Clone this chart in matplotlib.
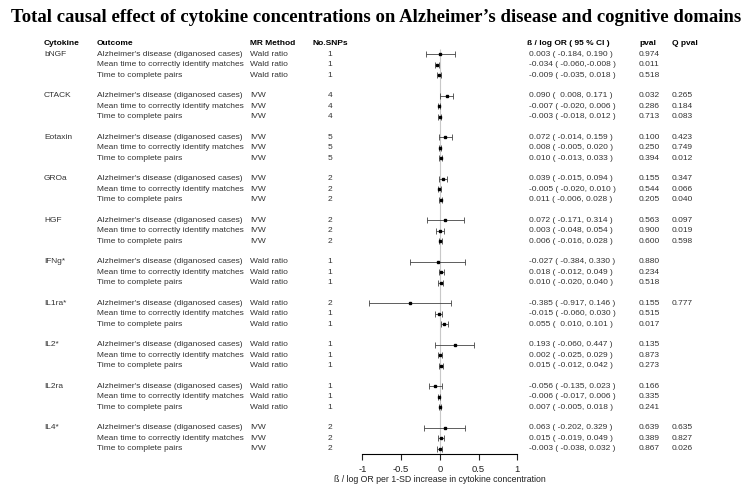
import numpy as np
import matplotlib
matplotlib.use("Agg")
import matplotlib.pyplot as plt
import matplotlib.transforms as mtransforms

cytokines = ["bNGF", "CTACK", "Eotaxin", "GROa", "HGF", "IFNg*", "IL1ra*", "IL2*", "IL2ra", "IL4*"]
outcomes = ["Alzheimer's disease (diganosed cases)",
            "Mean time to correctly identify matches",
            "Time to complete pairs"]
methods = ["Wald ratio", "IVW", "IVW", "IVW", "IVW", "Wald ratio", "Wald ratio", "Wald ratio", "Wald ratio", "IVW"]
snps = [[1, 1, 1], [4, 4, 4], [5, 5, 5], [2, 2, 2], [2, 2, 2],
        [1, 1, 1], [2, 1, 1], [1, 1, 1], [1, 1, 1], [2, 2, 2]]

beta = [[0.003, -0.034, -0.009],
        [0.090, -0.007, -0.003],
        [0.072, 0.008, 0.010],
        [0.039, -0.005, 0.011],
        [0.072, 0.003, 0.006],
        [-0.027, 0.018, 0.010],
        [-0.385, -0.015, 0.055],
        [0.193, 0.002, 0.015],
        [-0.056, -0.006, 0.007],
        [0.063, 0.015, -0.003]]
lower = [[-0.184, -0.060, -0.035],
         [0.008, -0.020, -0.018],
         [-0.014, -0.005, -0.013],
         [-0.015, -0.020, -0.006],
         [-0.171, -0.048, -0.016],
         [-0.384, -0.012, -0.020],
         [-0.917, -0.060, 0.010],
         [-0.060, -0.025, -0.012],
         [-0.135, -0.017, -0.005],
         [-0.202, -0.019, -0.038]]
upper = [[0.190, -0.008, 0.018],
         [0.171, 0.006, 0.012],
         [0.159, 0.020, 0.033],
         [0.094, 0.010, 0.028],
         [0.314, 0.054, 0.028],
         [0.330, 0.049, 0.040],
         [0.146, 0.030, 0.101],
         [0.447, 0.029, 0.042],
         [0.023, 0.006, 0.018],
         [0.329, 0.049, 0.032]]
pval = [["0.974", "0.011", "0.518"],
        ["0.032", "0.286", "0.713"],
        ["0.100", "0.250", "0.394"],
        ["0.155", "0.544", "0.205"],
        ["0.563", "0.900", "0.600"],
        ["0.880", "0.234", "0.518"],
        ["0.155", "0.515", "0.017"],
        ["0.135", "0.873", "0.273"],
        ["0.166", "0.335", "0.241"],
        ["0.639", "0.389", "0.867"]]
qpval = [["", "", ""],
         ["0.265", "0.184", "0.083"],
         ["0.423", "0.749", "0.012"],
         ["0.347", "0.066", "0.040"],
         ["0.097", "0.019", "0.598"],
         ["", "", ""],
         ["0.777", "", ""],
         ["", "", ""],
         ["", "", ""],
         ["0.635", "0.827", "0.026"]]

W, H = 752, 484
fig = plt.figure(figsize=(W / 100, H / 100), dpi=100)
plt.rcParams['font.family'] = ['Liberation Sans', 'DejaVu Sans']

# forest panel: -1..1 spans px 362..517, axis line at px 454
ax = fig.add_axes([362.3 / W, 1 - 454 / H, 155 / W, (454 - 38.7) / H])
row_h = 10.38
n_rows = len(cytokines) * 4 - 1
ax.set_xlim(-1, 1)
ax.set_ylim(-(n_rows - 1) - (454 - 448.7) / row_h, 1.5)

ys = []
for g in range(len(cytokines)):
    for r in range(3):
        ys.append(-(4 * g + r))
ys = np.array(ys)
b = np.array(beta).ravel()
lo = np.array(lower).ravel()
hi = np.array(upper).ravel()

ax.vlines(0, ax.get_ylim()[0], 0.5, color="#c8c8c8", lw=0.8, zorder=0)
ax.errorbar(b, ys, xerr=[b - lo, hi - b], fmt="s", ms=2.0, color="black",
            ecolor="#444444", elinewidth=0.6, capsize=2.3, capthick=0.6, zorder=3)

for s in ["top", "right", "left"]:
    ax.spines[s].set_visible(False)
ax.spines["bottom"].set_bounds(-1, 1)
ax.spines["bottom"].set_linewidth(0.8)
ax.set_yticks([])
ax.set_xticks([-1, -0.5, 0, 0.5, 1])
ax.set_xticklabels(["-1", "-0.5", "0", "0.5", "1"])
ax.tick_params(axis="x", length=4.5, width=0.8, pad=3.5, labelsize=6.8, colors="#222222")
ax.set_xlabel("ß / log OR per 1-SD increase in cytokine concentration", fontsize=6.3, color="#222222", labelpad=1)
ax.patch.set_alpha(0)

trans = mtransforms.blended_transform_factory(fig.transFigure, ax.transData)
fs = 6.0
col = "#333333"

def put(xpx, y, s, ha="left", bold=False):
    ax.text(xpx / W, y, s, transform=trans, ha=ha, va="center", fontsize=fs,
            fontweight="bold" if bold else "normal", color="black" if bold else col, clip_on=False)

# header
put(44, 1, "Cytokine", bold=True)
put(97, 1, "Outcome", bold=True)
put(250, 1, "MR Method", bold=True)
put(330, 1, "No.SNPs", ha="center", bold=True)
put(527, 1, "ß / log OR ( 95 % CI )", bold=True)
put(639, 1, "pval", bold=True)
put(672, 1, "Q pval", bold=True)

for g, name in enumerate(cytokines):
    put(44, -4 * g, name)
    for r in range(3):
        y = -(4 * g + r)
        put(97, y, outcomes[r])
        put(250, y, methods[g])
        put(330, y, str(snps[g][r]), ha="center")
        put(529, y, f"{beta[g][r]:.3f} ( {lower[g][r]:6.3f},{upper[g][r]:6.3f} )")
        put(639, y, pval[g][r])
        put(672, y, qpval[g][r])

fig.text(376 / W, 1 - 17 / H, "Total causal effect of cytokine concentrations on Alzheimer\u2019s disease and cognitive domains",
         ha="center", va="center", fontsize=13.5, fontweight="bold", family=["Liberation Serif", "DejaVu Serif"])

fig.savefig("out.png", dpi=100)
